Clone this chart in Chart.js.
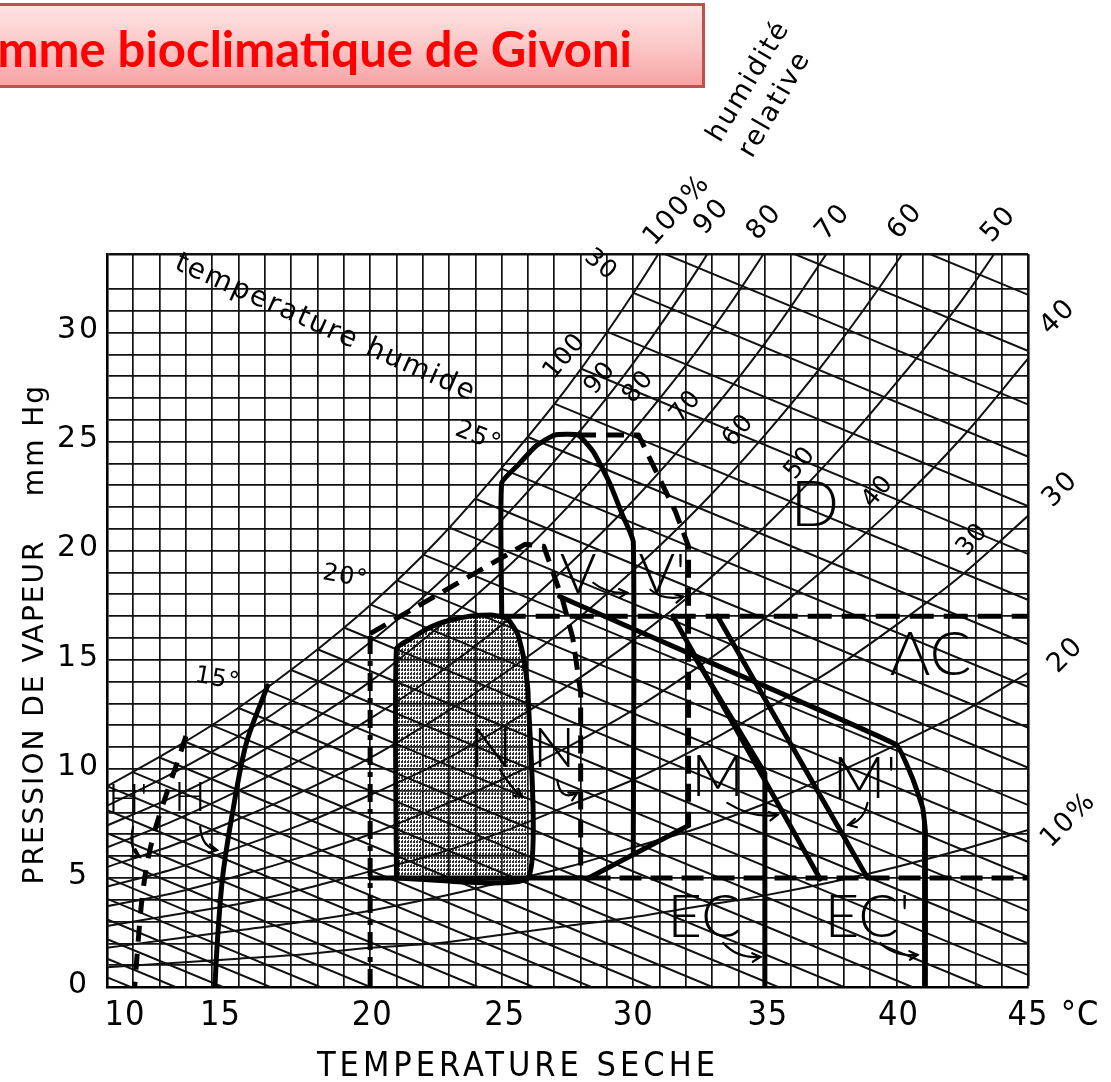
<!DOCTYPE html>
<html>
<head>
<meta charset="utf-8">
<script src="https://cdn.jsdelivr.net/npm/chart.js@4.4.0/dist/chart.umd.min.js"></script>
<style>
  html, body { margin: 0; padding: 0; background: #fff; overflow: hidden; }
  #wrap { position: relative; width: 1111px; height: 1082px; }
  #chart { position: absolute; left: 0; top: 0; }
  .title-box {
    position: absolute; left: -300px; top: 3px; width: 1005px; height: 85px;
    box-sizing: border-box; border: 3px solid #c0504d;
    background: linear-gradient(to bottom, #ffe3e3 0%, #fcc8c8 50%, #f6a3a3 100%);
    text-align: right; padding-right: 70px; padding-top: 4px;
    font: bold 49px "Lato", "Open Sans", sans-serif; color: #ff0000;
    line-height: 76px; white-space: nowrap;
  }
</style>
</head>
<body>
<div id="wrap">
  <canvas id="chart" width="1111" height="1082"></canvas>
  <div class="title-box">Diagramme bioclimatique de Givoni</div>
</div>
<script>
// relative humidity curves, vapour pressure (mm Hg) read at these dry temperatures
const rhTemps = [10, 12.5, 15, 17.5, 20, 22.5, 25, 27.5, 30, 32.5, 35, 37.5, 40, 42.5, 45];
const rh100 = [9.2, 10.9, 12.8, 15.0, 17.5, 20.4, 23.8, 27.5, 31.8, 36.7, 42.2, 48.4, 55.3, 63.1, 71.9];
const rh90 = [8.3, 9.8, 11.5, 13.5, 15.8, 18.4, 21.4, 24.8, 28.6, 33.0, 38.0, 43.5, 49.8, 56.8, 64.7];
const rh80 = [7.4, 8.7, 10.2, 12.0, 14.0, 16.4, 19.0, 22.0, 25.5, 29.3, 33.7, 38.7, 44.3, 50.5, 57.5];
const rh70 = [6.4, 7.6, 9.0, 10.5, 12.3, 14.3, 16.6, 19.3, 22.3, 25.7, 29.5, 33.9, 38.7, 44.2, 50.3];
const rh60 = [5.5, 6.5, 7.7, 9.0, 10.5, 12.3, 14.3, 16.5, 19.1, 22.0, 25.3, 29.0, 33.2, 37.9, 43.1];
const rh50 = [4.6, 5.4, 6.4, 7.5, 8.8, 10.2, 11.9, 13.8, 15.9, 18.3, 21.1, 24.2, 27.7, 31.5, 35.9];
const rh40 = [3.7, 4.3, 5.1, 6.0, 7.0, 8.2, 9.5, 11.0, 12.7, 14.7, 16.9, 19.4, 22.1, 25.2, 28.8];
const rh30 = [2.8, 3.3, 3.8, 4.5, 5.3, 6.1, 7.1, 8.3, 9.5, 11.0, 12.7, 14.5, 16.6, 18.9, 21.6];
const rh20 = [1.8, 2.2, 2.6, 3.0, 3.5, 4.1, 4.8, 5.5, 6.4, 7.3, 8.4, 9.7, 11.1, 12.6, 14.4];
const rh10 = [0.9, 1.1, 1.3, 1.5, 1.8, 2.0, 2.4, 2.8, 3.2, 3.7, 4.2, 4.8, 5.5, 6.3, 7.2];

// wet bulb lines: start on the saturation curve, end on the 0 mm Hg axis
const wbTemps = [1, 2, 3, 4, 5, 6, 7, 8, 9, 10, 11, 12, 13, 14, 15, 16, 17, 18, 19, 20, 21, 22, 23, 24, 25, 26, 27, 28, 29, 30, 31, 32, 33];
const wbSat = [4.93, 5.29, 5.69, 6.10, 6.54, 7.01, 7.51, 8.05, 8.61, 9.21, 9.84, 10.52, 11.23, 11.99, 12.79, 13.63, 14.53, 15.48, 16.48, 17.54, 18.65, 19.83, 21.07, 22.38, 23.76, 25.21, 26.74, 28.35, 30.04, 31.82, 33.70, 35.66, 37.73];
const wbZero = [10.9, 12.6, 14.4, 16.2, 18.1, 20.0, 22.0, 24.1, 26.2, 28.4, 30.7, 33.0, 35.5, 38.0, 40.6, 43.3, 46.1, 49.0, 52.0, 55.1, 58.3, 61.7, 65.1, 68.8, 72.5, 76.4, 80.5, 84.7, 89.1, 93.6, 98.4, 103.3, 108.5];

// zone boundaries (°C, mm Hg)
const zoneN_T = [21, 21, 21.6, 22.3, 23, 23.8, 24.6, 25.2, 25.6, 25.85, 26, 26, 21];
const zoneN_P = [5, 15.5, 16.0, 16.5, 16.8, 17.0, 17.05, 16.9, 16.2, 15.0, 13.5, 5, 5];
const zoneN2_T = [20, 25.9, 26.6, 27.3, 27.7, 28, 28];
const zoneN2_P = [16.2, 20.3, 20.2, 17.8, 16, 13.5, 5];
const edge20_T = [20, 20];
const edge20_P = [0, 16.2];
const zoneV_T = [25, 25, 25.6, 26.3, 27, 27.9, 28.5, 29.1, 29.6, 30, 30];
const zoneV_P = [17, 23.1, 23.9, 24.8, 25.3, 25.3, 24.5, 23.1, 21.6, 20.4, 6.2];
const zoneV2_T = [27.9, 30.2, 30.8, 31.6, 32.1, 32.1];
const zoneV2_P = [25.3, 25.3, 23.8, 21.8, 20.2, 7.4];
const ventBase_T = [28.3, 32.1];
const ventBase_P = [5, 7.4];
const zoneEC_T = [27.2, 32.3, 40, 40.6, 41, 41.1, 41.1];
const zoneEC_P = [17.9, 15.2, 11.1, 9.6, 8.2, 7.1, 0];
const zoneM_T = [32.3, 35, 35];
const zoneM_P = [15.2, 9.8, 0];
const lineM_T = [31.5, 37.1];
const lineM_P = [17, 4.95];
const lineM2_T = [33.2, 38.9];
const lineM2_P = [17, 5];
const acLine_T = [25, 45];
const acLine_P = [17, 17];
const baseSolid_T = [20, 28.3];
const baseSolid_P = [5, 5];
const baseDash_T = [28.3, 45];
const baseDash_P = [5, 5];
const zoneH_T = [16.1, 15.3, 14.8, 14.4, 14.2, 14.1];
const zoneH_P = [13.8, 11.2, 8.2, 5.1, 2.2, 0];
const zoneH2_T = [13, 12.7, 12.3, 11.8, 11.5, 11.3, 11.05];
const zoneH2_P = [11.5, 10.4, 9.0, 7.1, 5.5, 3.7, 0];

const xTicks = [10, 15, 20, 25, 30, 35, 40, 45];
const yTicks = [0, 5, 10, 15, 20, 25, 30];

function pts(ts, ps) {
    return ts.map(function (t, i) { return { x: t, y: ps[i] }; });
}

function thick(label, ts, ps, dash, tension) {
    return {
        label: label, data: pts(ts, ps), showLine: true, pointRadius: 0,
        borderColor: '#000', borderWidth: 5, borderDash: dash || [],
        borderCapStyle: dash ? 'butt' : 'round', borderJoinStyle: 'round',
        tension: tension || 0, fill: false
    };
}

let datasets = [
    thick('N', zoneN_T, zoneN_P, null, 0.15),
    thick("N'", zoneN2_T, zoneN2_P, [18, 10]),
    thick('x20', edge20_T, edge20_P, [18, 7, 5, 7]),
    thick('V', zoneV_T, zoneV_P, null, 0.15),
    thick("V'", zoneV2_T, zoneV2_P, [18, 10]),
    thick('Vbase', ventBase_T, ventBase_P),
    thick('EC', zoneEC_T, zoneEC_P, null, 0.1),
    thick('M', zoneM_T, zoneM_P),
    thick('Mline', lineM_T, lineM_P),
    thick("M'", lineM2_T, lineM2_P),
    thick('AC', acLine_T, acLine_P, [24, 10]),
    thick('base', baseSolid_T, baseSolid_P),
    thick('baseDash', baseDash_T, baseDash_P, [22, 9]),
    thick('H', zoneH_T, zoneH_P, null, 0.3),
    thick("H'", zoneH2_T, zoneH2_P, [16, 12], 0.3)
];

[rh100, rh90, rh80, rh70, rh60, rh50, rh40, rh30, rh20, rh10].forEach(function (curve, i) {
    datasets.push({
        label: 'rh' + (100 - i * 10), data: pts(rhTemps, curve), showLine: true, pointRadius: 0,
        borderColor: '#111', borderWidth: 2, cubicInterpolationMode: 'monotone', fill: false
    });
});

for (let i = 0; i < wbTemps.length; i++) {
    datasets.push({
        label: 'wb' + wbTemps[i], data: [{ x: wbTemps[i], y: wbSat[i] }, { x: wbZero[i], y: 0 }],
        showLine: true, pointRadius: 0, borderColor: '#111', borderWidth: 2, fill: false
    });
}

function hatchPattern(ctx) {
    let c = document.createElement('canvas');
    c.width = 3; c.height = 4;
    let g = c.getContext('2d');
    g.fillStyle = '#333';
    g.fillRect(0, 0, 1, 3);
    g.fillRect(2, 1, 1, 2);
    return ctx.createPattern(c, 'repeat');
}

function txt(ctx, s, x, y, font, rot, ls, align) {
    ctx.save();
    ctx.translate(x, y);
    ctx.rotate((rot || 0) * Math.PI / 180);
    ctx.font = font;
    ctx.letterSpacing = ls || '0px';
    ctx.textAlign = align || 'center';
    ctx.textBaseline = 'middle';
    ctx.fillStyle = '#000';
    ctx.fillText(s, 0, 0);
    ctx.restore();
}

// small hand drawn arrows next to the zone letters
function arrow(ctx, a, b, c) {
    ctx.save();
    ctx.strokeStyle = '#000';
    ctx.lineWidth = 2.2;
    ctx.lineCap = 'round';
    ctx.beginPath();
    ctx.moveTo(a[0], a[1]);
    ctx.quadraticCurveTo(b[0], b[1], c[0], c[1]);
    ctx.stroke();
    let ang = Math.atan2(c[1] - b[1], c[0] - b[0]);
    ctx.beginPath();
    ctx.moveTo(c[0] - 9 * Math.cos(ang - 0.5), c[1] - 9 * Math.sin(ang - 0.5));
    ctx.lineTo(c[0], c[1]);
    ctx.lineTo(c[0] - 9 * Math.cos(ang + 0.5), c[1] - 9 * Math.sin(ang + 0.5));
    ctx.stroke();
    ctx.restore();
}

const givoniDecor = {
    id: 'givoniDecor',
    beforeDatasetsDraw(chart) {
        let ctx = chart.ctx;
        let meta = chart.getDatasetMeta(0);
        ctx.save();
        ctx.beginPath();
        meta.data.forEach(function (p, i) { if (i) ctx.lineTo(p.x, p.y); else ctx.moveTo(p.x, p.y); });
        ctx.closePath();
        ctx.fillStyle = hatchPattern(ctx);
        ctx.fill();
        ctx.restore();
    },
    afterDraw(chart) {
        let ctx = chart.ctx;
        let sx = chart.scales.x, sy = chart.scales.y;
        let X = function (v) { return sx.getPixelForValue(v); };
        let Y = function (v) { return sy.getPixelForValue(v); };
        let P = function (t, p) { return [X(t), Y(p)]; };
        let round = '"DejaVu Sans", sans-serif';
        let narrow = '"Liberation Sans Narrow", "DejaVu Sans Condensed", sans-serif';
        let letters = '"Lato", "Liberation Sans", sans-serif';

        // tick labels
        yTicks.forEach(function (v) {
            txt(ctx, String(v), chart.chartArea.left - 28, Y(v) - 2, '30px ' + round, 0, '3px', 'center');
        });
        let nudge = [18, -18, 2, 3, 0, 3, 2, 0];
        xTicks.forEach(function (v, i) {
            txt(ctx, String(v), X(v) + nudge[i], chart.chartArea.bottom + 29, '34px ' + narrow, 0, '1px', 'center');
        });
        txt(ctx, '°C', X(45) + 52, chart.chartArea.bottom + 29, '34px ' + narrow, 0, '1px', 'center');

        // axis titles
        txt(ctx, 'TEMPERATURE SECHE', 518, 1067, '34px ' + narrow, 0, '4px', 'center');
        txt(ctx, 'PRESSION DE VAPEUR', 36, 712, '28px ' + round, -90, '2px', 'center');
        txt(ctx, 'mm Hg', 36, 440, '28px ' + round, -90, '2px', 'center');

        // zone letters
        let zl = [['D', 36.9, 22.1, 64], ['V', 27.9, 18.9, 56], ["V'", 31.1, 18.9, 56], ['AC', 41.3, 15.2, 62],
            ['N', 24.6, 10.9, 56], ["N'", 27.2, 10.9, 56], ['M', 33.2, 9.6, 58], ["M'", 38.8, 9.5, 58],
            ['EC', 32.7, 3.2, 60], ["EC'", 38.9, 3.2, 60], ["H'", 10.8, 8.6, 42], ['H', 13.15, 8.7, 42]];
        zl.forEach(function (l) {
            txt(ctx, l[0], X(l[1]), Y(l[2]), '300 ' + l[3] + 'px ' + letters, 0, '0px', 'center');
        });
        arrow(ctx, P(28.48, 18.53), P(29.01, 18.0), P(29.77, 18.07));
        arrow(ctx, P(30.65, 18.21), P(31.14, 17.7), P(31.9, 17.89));
        arrow(ctx, P(24.94, 9.95), P(25.4, 9.04), P(25.78, 8.72));
        arrow(ctx, P(27.11, 9.5), P(27.22, 8.5), P(27.87, 8.9));
        arrow(ctx, P(33.57, 8.44), P(34.56, 7.7), P(35.48, 7.89));
        arrow(ctx, P(38.9, 8.44), P(38.75, 7.6), P(38.17, 7.43));
        arrow(ctx, P(33.42, 2.02), P(33.95, 1.3), P(34.83, 1.38));
        arrow(ctx, P(39.39, 2.02), P(39.89, 1.4), P(40.8, 1.47));
        arrow(ctx, P(13.54, 7.34), P(13.6, 6.4), P(14.18, 6.28));
        arrow(ctx, P(10.99, 7.34), P(10.8, 6.3), P(11.25, 5.96));

        // wet bulb temperatures
        txt(ctx, '15°', X(14.2), Y(14.1), '24px ' + round, 10, '1px');
        txt(ctx, '20°', X(19.05), Y(18.8), '24px ' + round, 10, '1px');
        txt(ctx, '25°', X(24.1), Y(25.2), '25px ' + round, 22, '1px');
        txt(ctx, '30', X(28.75), Y(33.1), '25px ' + round, 40, '1px');
        txt(ctx, 'temperature humide', X(18.3), Y(30.2), '28px ' + round, 24, '2px');

        // relative humidity inside the grid
        let rin = [['100', 27.4, 28.9], ['90', 28.75, 27.9], ['80', 30.2, 27.5], ['70', 32.0, 26.6],
            ['60', 34.0, 25.5], ['50', 36.35, 24.0], ['40', 39.3, 22.7], ['30', 42.9, 20.5]];
        rin.forEach(function (l) {
            txt(ctx, l[0], X(l[1]), Y(l[2]), '25px ' + round, -50, '1px');
        });
        // relative humidity above the grid
        let rtop = [['100%', 31.67, 35.6], ['90', 33.0, 35.3], ['80', 35.0, 35.05], ['70', 37.6, 35.05],
            ['60', 40.35, 35.1], ['50', 43.9, 34.95]];
        rtop.forEach(function (l) {
            txt(ctx, l[0], X(l[1]), Y(l[2]), '27px ' + round, -48, '2px');
        });
        txt(ctx, 'humidité', X(34.4), Y(41.5), '27px ' + round, -59, '2px');
        txt(ctx, 'relative', X(35.4), Y(40.45), '27px ' + round, -60, '2px');
        // relative humidity at the right edge
        let rright = [['40', 46.15, 30.7], ['30', 46.25, 22.8], ['20', 46.45, 15.2], ['10%', 46.55, 7.65]];
        rright.forEach(function (l) {
            txt(ctx, l[0], X(l[1]), Y(l[2]), '27px ' + round, -45, '2px');
        });
    }
};

let chart = new Chart(document.getElementById('chart').getContext('2d'), {
    type: 'scatter',
    data: { datasets: datasets },
    options: {
        responsive: false,
        animation: false,
        devicePixelRatio: 1,
        layout: { padding: { left: 107, right: 83, top: 254, bottom: 95 } },
        plugins: { legend: { display: false }, tooltip: { enabled: false } },
        scales: {
            x: {
                type: 'linear', min: 10, max: 45,
                afterFit: function (s) { s.height = 0; },
                ticks: { display: false, stepSize: 1 },
                grid: {
                    color: '#111', drawTicks: false,
                    lineWidth: function (c) { return c.tick && c.tick.value === 45 ? 2.6 : 1.7; }
                },
                border: { color: '#000', width: 2.6 }
            },
            y: {
                type: 'linear', min: 0, max: 33.6,
                afterFit: function (s) { s.width = 0; },
                ticks: { display: false, stepSize: 1 },
                grid: {
                    color: '#111', drawTicks: false,
                    lineWidth: function (c) { return c.tick && c.tick.value === 33.6 ? 2.6 : 1.7; }
                },
                border: { color: '#000', width: 2.6 }
            }
        }
    },
    plugins: [givoniDecor]
});
</script>
</body>
</html>
